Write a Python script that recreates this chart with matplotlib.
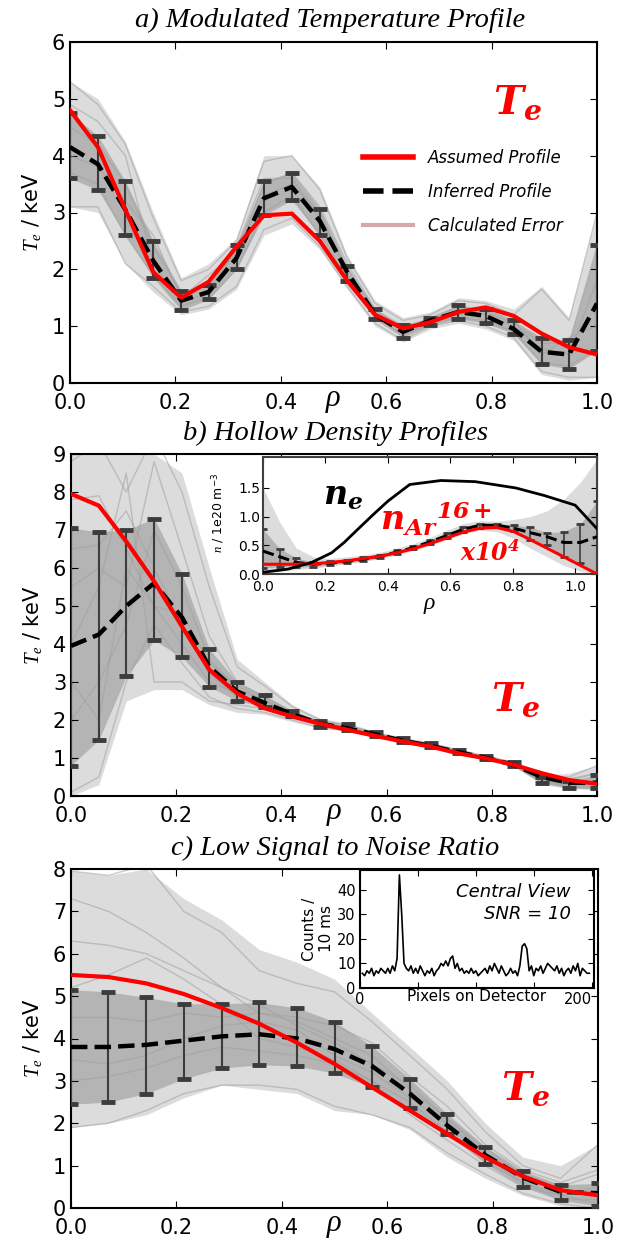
import numpy as np
import matplotlib
matplotlib.use('Agg')
import matplotlib.pyplot as plt
from matplotlib.lines import Line2D

plt.rcParams['font.family'] = ['DejaVu Sans']
plt.rcParams['mathtext.fontset'] = 'custom'
plt.rcParams['mathtext.it'] = 'Liberation Serif:italic'
plt.rcParams['mathtext.rm'] = 'DejaVu Sans'
plt.rcParams['mathtext.bf'] = 'DejaVu Serif:bold:italic'
plt.rcParams['xtick.direction'] = 'in'
plt.rcParams['ytick.direction'] = 'in'
plt.rcParams['xtick.top'] = True
plt.rcParams['ytick.right'] = True
plt.rcParams['xtick.major.size'] = 5
plt.rcParams['ytick.major.size'] = 5
plt.rcParams['axes.linewidth'] = 1.5

# ---------------- data ----------------
rho20 = [0.0, 0.053, 0.105, 0.158, 0.211, 0.263, 0.316, 0.368, 0.421, 0.474,
         0.526, 0.579, 0.632, 0.684, 0.737, 0.789, 0.842, 0.895, 0.947, 1.0]
rho15 = [0.0, 0.071, 0.143, 0.214, 0.286, 0.357, 0.429, 0.5, 0.571, 0.643,
         0.714, 0.786, 0.857, 0.929, 1.0]

# a) modulated profile
a_assumed = [4.8, 4.15, 3.05, 1.95, 1.5, 1.78, 2.4, 2.95, 2.98, 2.5,
             1.8, 1.2, 0.96, 1.07, 1.25, 1.33, 1.18, 0.87, 0.63, 0.5]
a_inferred = [4.15, 3.85, 3.05, 2.15, 1.45, 1.6, 2.2, 3.25, 3.45, 2.85,
              1.95, 1.2, 0.9, 1.1, 1.25, 1.18, 0.95, 0.55, 0.5, 1.4]
a_err_lo = [3.6, 3.4, 2.6, 1.85, 1.28, 1.47, 2.0, 2.95, 3.22, 2.6,
            1.8, 1.12, 0.8, 1.02, 1.13, 1.05, 0.87, 0.33, 0.25, 0.57]
a_err_hi = [4.75, 4.35, 3.55, 2.5, 1.62, 1.72, 2.42, 3.55, 3.7, 3.07,
            2.05, 1.3, 1.02, 1.15, 1.37, 1.3, 1.1, 0.8, 0.75, 2.42]
a_gray_lo = [3.1, 3.0, 2.1, 1.6, 1.2, 1.3, 1.65, 2.6, 2.8, 2.35,
             1.65, 1.0, 0.72, 0.95, 1.05, 0.95, 0.75, 0.15, 0.05, 0.1]
a_gray_hi = [5.3, 5.0, 4.25, 3.0, 1.85, 2.1, 2.55, 4.0, 4.0, 3.45,
             2.25, 1.45, 1.15, 1.25, 1.5, 1.45, 1.3, 1.7, 1.15, 3.0]
a_samples = [
    [5.3, 4.9, 4.2, 2.9, 1.8, 2.0, 2.5, 3.9, 4.0, 3.4, 2.2, 1.4, 1.1, 1.2, 1.45, 1.4, 1.2, 1.65, 1.1, 3.0],
    [3.1, 3.1, 2.1, 1.7, 1.25, 1.35, 1.7, 2.7, 2.9, 2.4, 1.7, 1.05, 0.75, 1.0, 1.1, 1.0, 0.8, 0.2, 0.1, 0.1],
    [4.5, 4.2, 3.5, 2.4, 1.6, 1.7, 2.3, 3.5, 3.7, 3.1, 2.1, 1.3, 0.95, 1.15, 1.35, 1.25, 1.05, 0.7, 0.7, 2.4],
    [3.7, 3.5, 2.6, 1.9, 1.35, 1.5, 2.0, 3.0, 3.3, 2.6, 1.85, 1.15, 0.85, 1.05, 1.15, 1.1, 0.9, 0.35, 0.3, 0.6],
    [4.9, 4.6, 4.0, 2.1, 1.4, 1.6, 2.4, 3.6, 3.6, 2.9, 2.0, 1.25, 0.9, 1.1, 1.3, 1.2, 1.0, 0.6, 0.5, 1.8],
    [4.0, 3.8, 3.2, 2.6, 1.5, 1.9, 2.3, 3.3, 3.5, 3.0, 1.9, 1.2, 1.0, 1.1, 1.2, 1.3, 1.1, 0.5, 0.8, 1.0],
]

# b) hollow density
b_assumed = [7.95, 7.64, 6.7, 5.65, 4.46, 3.32, 2.7, 2.31, 2.09, 1.9,
             1.74, 1.58, 1.43, 1.3, 1.12, 0.99, 0.82, 0.6, 0.42, 0.32]
b_inferred = [3.95, 4.25, 5.0, 5.6, 4.7, 3.4, 2.75, 2.45, 2.15, 1.9,
              1.78, 1.62, 1.45, 1.32, 1.15, 1.0, 0.82, 0.5, 0.35, 0.35]
b_err_lo = [0.8, 1.48, 3.15, 4.1, 3.65, 2.88, 2.5, 2.35, 2.1, 1.82,
            1.75, 1.58, 1.42, 1.3, 1.13, 0.97, 0.8, 0.35, 0.2, 0.2]
b_err_hi = [7.05, 6.95, 7.0, 7.3, 5.85, 3.87, 3.0, 2.65, 2.25, 1.98,
            1.9, 1.68, 1.52, 1.4, 1.22, 1.05, 0.9, 0.5, 0.4, 0.55]
b_gray_lo = [0.0, 0.3, 2.5, 2.8, 2.8, 2.4, 2.2, 2.15, 1.95, 1.78,
             1.7, 1.55, 1.4, 1.28, 1.1, 0.95, 0.78, 0.3, 0.2, 0.15]
b_gray_hi = [9.0, 9.0, 9.0, 9.0, 8.5, 6.0, 3.6, 3.0, 2.4, 2.05,
             1.92, 1.7, 1.55, 1.42, 1.25, 1.08, 0.92, 0.55, 0.6, 0.8]
b_samples = [
    [8.8, 9.3, 8.0, 9.5, 8.0, 5.5, 3.4, 2.9, 2.35, 2.0, 1.85, 1.65, 1.5, 1.35, 1.2, 1.05, 0.88, 0.5, 0.5, 0.8],
    [0.1, 0.5, 3.0, 4.5, 3.5, 2.6, 2.3, 2.2, 2.0, 1.8, 1.72, 1.56, 1.42, 1.3, 1.12, 0.97, 0.8, 0.35, 0.25, 0.2],
    [6.5, 6.6, 7.5, 6.0, 4.5, 3.2, 2.6, 2.4, 2.1, 1.9, 1.75, 1.6, 1.45, 1.32, 1.15, 1.0, 0.82, 0.45, 0.35, 0.4],
    [2.0, 3.0, 4.5, 7.0, 5.5, 3.6, 2.8, 2.5, 2.2, 1.92, 1.78, 1.62, 1.46, 1.33, 1.16, 1.01, 0.83, 0.42, 0.3, 0.3],
    [7.8, 7.9, 6.5, 5.0, 4.0, 3.0, 2.7, 2.4, 2.15, 1.9, 1.76, 1.6, 1.44, 1.31, 1.14, 0.99, 0.81, 0.48, 0.4, 0.6],
    [4.0, 5.5, 8.5, 3.0, 3.0, 2.5, 2.4, 2.3, 2.1, 1.85, 1.73, 1.58, 1.43, 1.3, 1.13, 0.98, 0.8, 0.38, 0.28, 0.25],
    [5.5, 6.0, 5.5, 8.8, 6.5, 4.2, 3.0, 2.6, 2.2, 1.95, 1.8, 1.63, 1.47, 1.34, 1.17, 1.02, 0.85, 0.5, 0.45, 0.6],
    [3.0, 2.0, 6.0, 5.0, 4.8, 3.5, 2.9, 2.5, 2.15, 1.9, 1.76, 1.6, 1.45, 1.31, 1.14, 0.99, 0.82, 0.44, 0.32, 0.35],
]

# b) inset: densities
ne_rho = [0.0, 0.08, 0.155, 0.22, 0.26, 0.3, 0.35, 0.4, 0.47, 0.57, 0.68, 0.81, 0.9, 1.0, 1.07]
ne_val = [0.03, 0.085, 0.2, 0.37, 0.55, 0.76, 1.02, 1.27, 1.56, 1.63, 1.61, 1.5, 1.37, 1.2, 0.79]
in_rho = [0.0, 0.054, 0.107, 0.161, 0.214, 0.268, 0.321, 0.375, 0.428, 0.482, 0.535,
          0.589, 0.642, 0.696, 0.749, 0.803, 0.856, 0.91, 0.963, 1.017, 1.07]
nar_assumed = [0.17, 0.17, 0.17, 0.18, 0.2, 0.23, 0.27, 0.31, 0.37, 0.44, 0.53,
               0.63, 0.73, 0.8, 0.81, 0.74, 0.6, 0.45, 0.3, 0.15, 0.0]
nar_inferred = [0.4, 0.3, 0.2, 0.17, 0.19, 0.22, 0.26, 0.31, 0.38, 0.46, 0.56,
                0.67, 0.78, 0.85, 0.85, 0.8, 0.72, 0.65, 0.55, 0.55, 0.65]
nar_err_lo = [0.1, 0.13, 0.12, 0.13, 0.16, 0.19, 0.23, 0.28, 0.35, 0.43, 0.53,
              0.63, 0.74, 0.81, 0.82, 0.75, 0.6, 0.5, 0.3, 0.2, 0.0]
nar_err_hi = [0.78, 0.44, 0.28, 0.21, 0.22, 0.25, 0.29, 0.34, 0.41, 0.49, 0.59,
              0.71, 0.82, 0.88, 0.88, 0.85, 0.82, 0.72, 0.74, 0.87, 1.27]
nar_gray_lo = [0.05, 0.05, 0.08, 0.1, 0.14, 0.18, 0.22, 0.27, 0.33, 0.41, 0.5,
               0.6, 0.7, 0.76, 0.74, 0.62, 0.45, 0.3, 0.15, 0.05, 0.0]
nar_gray_hi = [1.5, 0.9, 0.45, 0.3, 0.27, 0.3, 0.33, 0.38, 0.45, 0.53, 0.64,
               0.76, 0.88, 0.93, 0.92, 0.95, 1.0, 1.1, 1.3, 1.6, 2.0]

# c) low SNR
c_assumed = [5.5, 5.45, 5.3, 5.05, 4.72, 4.35, 3.9, 3.4, 2.85, 2.3,
             1.75, 1.2, 0.75, 0.42, 0.3]
c_inferred = [3.8, 3.8, 3.85, 3.95, 4.05, 4.1, 4.0, 3.75, 3.35, 2.7,
              1.95, 1.25, 0.72, 0.38, 0.35]
c_err_lo = [2.45, 2.5, 2.7, 3.05, 3.3, 3.38, 3.35, 3.18, 2.85, 2.35,
            1.75, 1.05, 0.5, 0.18, 0.05]
c_err_hi = [5.15, 5.1, 4.97, 4.82, 4.82, 4.85, 4.72, 4.4, 3.82, 3.05,
            2.22, 1.45, 0.88, 0.55, 0.58]
c_gray_lo = [1.9, 2.0, 2.2, 2.6, 2.9, 2.8, 2.7, 2.3, 2.2, 1.85,
             1.2, 0.7, 0.3, 0.05, 0.0]
c_gray_hi = [7.95, 7.85, 8.0, 7.3, 6.8, 6.1, 5.8, 5.4, 4.6, 3.8,
             3.0, 2.0, 1.2, 1.0, 1.5]
c_samples = [
    [7.95, 7.85, 8.1, 7.0, 6.5, 5.6, 5.3, 5.1, 4.4, 3.6, 2.8, 1.8, 1.0, 0.7, 1.5],
    [1.9, 2.0, 2.3, 2.7, 2.9, 2.9, 2.8, 2.4, 2.2, 1.9, 1.3, 0.8, 0.35, 0.1, 0.0],
    [6.3, 6.2, 6.0, 5.6, 5.2, 4.8, 4.3, 3.9, 3.4, 2.9, 2.1, 1.4, 0.8, 0.5, 0.8],
    [3.0, 3.1, 3.3, 3.6, 3.8, 3.7, 3.6, 3.4, 3.0, 2.5, 1.8, 1.1, 0.6, 0.3, 0.1],
    [4.5, 4.5, 4.4, 4.6, 4.5, 4.6, 4.4, 4.0, 3.6, 2.8, 2.1, 1.3, 0.8, 0.4, 0.4],
    [7.3, 7.0, 6.5, 5.9, 5.2, 4.6, 4.5, 4.3, 3.9, 3.1, 2.4, 1.5, 0.9, 0.6, 0.9],
    [3.5, 3.4, 3.6, 4.0, 4.3, 4.4, 4.2, 3.6, 3.2, 2.6, 2.0, 1.2, 0.6, 0.2, 0.2],
    [5.2, 5.5, 5.9, 5.4, 4.8, 4.0, 3.8, 3.5, 3.0, 2.2, 1.6, 1.0, 0.5, 0.3, 0.5],
]

# c) inset: central view spectrum (every second pixel)
spec_pix = list(range(2, 200, 2))
spec_counts = [6, 5, 7, 6, 8, 5, 7, 6, 8, 7, 6, 8, 6, 9, 7, 12, 46, 30, 10, 8,
               7, 9, 6, 8, 6, 9, 7, 5, 7, 6, 8, 5, 7, 8, 10, 9, 11, 9, 12, 13,
               8, 10, 7, 8, 6, 7, 6, 8, 6, 7, 5, 6, 7, 8, 6, 9, 7, 10, 8, 6,
               9, 7, 5, 6, 8, 6, 7, 5, 9, 17, 18, 16, 7, 9, 5, 8, 7, 9, 6, 8,
               10, 9, 8, 7, 9, 6, 8, 5, 7, 8, 6, 9, 7, 10, 5, 8, 7, 6, 6]

W, H = 621, 1238
fig = plt.figure(figsize=(W / 100, H / 100), dpi=100)


def box(l, t, r, b):
    return [l / W, 1 - b / H, (r - l) / W, (b - t) / H]


def draw_err(ax, x, lo, hi, capsize=5, capthick=3.5, elw=1.5):
    lo = np.array(lo)
    hi = np.array(hi)
    eb = ax.errorbar(x, (lo + hi) / 2, yerr=(hi - lo) / 2, fmt='none',
                     ecolor='#3c3c3c', elinewidth=elw, capsize=capsize,
                     capthick=capthick, zorder=3)
    for cap in eb[1]:
        cap.set_color('k')
    return eb


def profile(ax, rho, assumed, inferred, lo, hi, glo, ghi, samples, ymax):
    ax.fill_between(rho, glo, ghi, color='#dcdcdc', lw=0, zorder=1)
    ax.fill_between(rho, lo, hi, color='#b4b4b4', lw=0, zorder=1)
    for s in samples:
        ax.plot(rho, s, color='#a0a0a0', lw=1, alpha=0.55, zorder=2)
    draw_err(ax, rho, lo, hi)
    ax.plot(rho, inferred, color='k', ls='--', lw=3.2, zorder=4)
    ax.plot(rho, assumed, color='red', lw=3, zorder=5)
    ax.set_xlim(0, 1)
    ax.set_ylim(0, ymax)
    ax.set_yticks(range(0, ymax + 1))
    ax.tick_params(labelsize=15)
    ax.tick_params(axis='x', pad=7)
    ax.set_xticks([0, 0.2, 0.4, 0.6, 0.8, 1.0])
    ax.set_xticklabels(['0.0', '0.2', '0.4', '0.6', '0.8', '1.0'])
    ax.set_ylabel(r'$T_e$ / keV', fontsize=15, labelpad=6)
    ax.text(0.5, -0.052, r'$\rho$', transform=ax.transAxes, ha='center',
            va='center', fontsize=22)


title_font = dict(family='Liberation Serif', style='italic', fontsize=20.5)

# ---------- panel a ----------
axa = fig.add_axes(box(70, 42, 597, 383))
profile(axa, rho20, a_assumed, a_inferred, a_err_lo, a_err_hi,
        a_gray_lo, a_gray_hi, a_samples, 6)
fig.text(330 / W, 1 - 20 / H, 'a) Modulated Temperature Profile',
         ha='center', va='center', **title_font)
axa.text(0.85, 0.82, r'$\mathbf{T_e}$', transform=axa.transAxes, color='red',
         fontsize=29, ha='center', va='center', zorder=6)
handles = [Line2D([], [], color='red', lw=4),
           Line2D([], [], color='k', ls='--', lw=4),
           Line2D([], [], color='#d4a9a9', lw=3)]
axa.legend(handles, ['Assumed Profile', 'Inferred Profile', 'Calculated Error'],
           loc='center left', bbox_to_anchor=(0.54, 0.56), frameon=False,
           prop=dict(style='italic', size=12), handlelength=3.0,
           labelspacing=0.95, borderpad=0, handletextpad=0.9)

# ---------- panel b ----------
axb = fig.add_axes(box(71, 454, 597, 796))
profile(axb, rho20, b_assumed, b_inferred, b_err_lo, b_err_hi,
        b_gray_lo, b_gray_hi, b_samples, 9)
fig.text(336 / W, 1 - 433 / H, 'b) Hollow Density Profiles',
         ha='center', va='center', **title_font)
axb.text(0.846, 0.28, r'$\mathbf{T_e}$', transform=axb.transAxes, color='red',
         fontsize=29, ha='center', va='center', zorder=6)

axbi = fig.add_axes(box(263, 457, 597, 574))
for sp in axbi.spines.values():
    sp.set_color('#404040')
axbi.fill_between(in_rho, nar_gray_lo, nar_gray_hi, color='#dcdcdc', lw=0, zorder=1)
axbi.fill_between(in_rho, nar_err_lo, nar_err_hi, color='#b4b4b4', lw=0, zorder=1)
draw_err(axbi, in_rho, nar_err_lo, nar_err_hi, capsize=3, capthick=2, elw=1.2)
axbi.plot(in_rho, nar_inferred, color='k', ls='--', lw=2.2, zorder=4)
axbi.plot(in_rho, nar_assumed, color='red', lw=2.2, zorder=5)
axbi.plot(ne_rho, ne_val, color='k', lw=2, zorder=5)
axbi.set_xlim(0, 1.07)
axbi.set_ylim(0, 2.04)
axbi.set_xticks([0, 0.2, 0.4, 0.6, 0.8, 1.0])
axbi.set_xticklabels(['0.0', '0.2', '0.4', '0.6', '0.8', '1.0'])
axbi.set_yticks([0, 0.5, 1.0, 1.5])
axbi.set_yticklabels(['0.0', '0.5', '1.0', '1.5'])
axbi.tick_params(labelsize=10, length=4)
axbi.tick_params(axis='x', pad=4)
axbi.tick_params(axis='y', pad=2)
axbi.set_xlabel(r'$\rho$', fontsize=17, labelpad=-1)
axbi.set_ylabel(r'$n$ / 1e20 m$^{-3}$', fontsize=9)
axbi.yaxis.set_label_coords(-0.11, 0.52)
axbi.text(0.24, 0.67, r'$\mathbf{n_e}$', transform=axbi.transAxes, color='k',
          fontsize=24, ha='center', va='center', zorder=6)
axbi.text(0.516, 0.47, r'$\mathbf{n_{Ar}}^{\mathbf{16+}}$', transform=axbi.transAxes,
          color='red', fontsize=24, ha='center', va='center', zorder=6)
axbi.text(0.68, 0.18, r'$\mathbf{x10^4}$', transform=axbi.transAxes, color='red',
          fontsize=17, ha='center', va='center', zorder=6)

# ---------- panel c ----------
axc = fig.add_axes(box(71, 869, 598, 1208))
profile(axc, rho15, c_assumed, c_inferred, c_err_lo, c_err_hi,
        c_gray_lo, c_gray_hi, c_samples, 8)
fig.text(335 / W, 1 - 848 / H, 'c) Low Signal to Noise Ratio',
         ha='center', va='center', **title_font)
axc.text(0.863, 0.35, r'$\mathbf{T_e}$', transform=axc.transAxes, color='red',
         fontsize=29, ha='center', va='center', zorder=6)

axci = fig.add_axes(box(360, 870, 594, 988))
axci.plot(spec_pix, spec_counts, color='k', lw=1.2)
axci.set_xlim(0, 202)
axci.set_ylim(0, 48)
axci.set_xticks([0, 50, 100, 150, 200])
axci.set_xticklabels(['0', '', '', '', '200'])
axci.get_xticklabels()[-1].set_ha('right')
axci.set_yticks([0, 10, 20, 30, 40])
axci.tick_params(labelsize=10.5, pad=3, length=4)
axci.set_xlabel('Pixels on Detector', fontsize=11, labelpad=-13)
axci.set_ylabel('Counts /\n10 ms', fontsize=11, labelpad=2)
axci.text(0.9, 0.72, 'Central View\nSNR = 10', transform=axci.transAxes,
          ha='right', va='center', style='italic', fontsize=13, linespacing=1.3)

fig.savefig('out.png', dpi=100)
